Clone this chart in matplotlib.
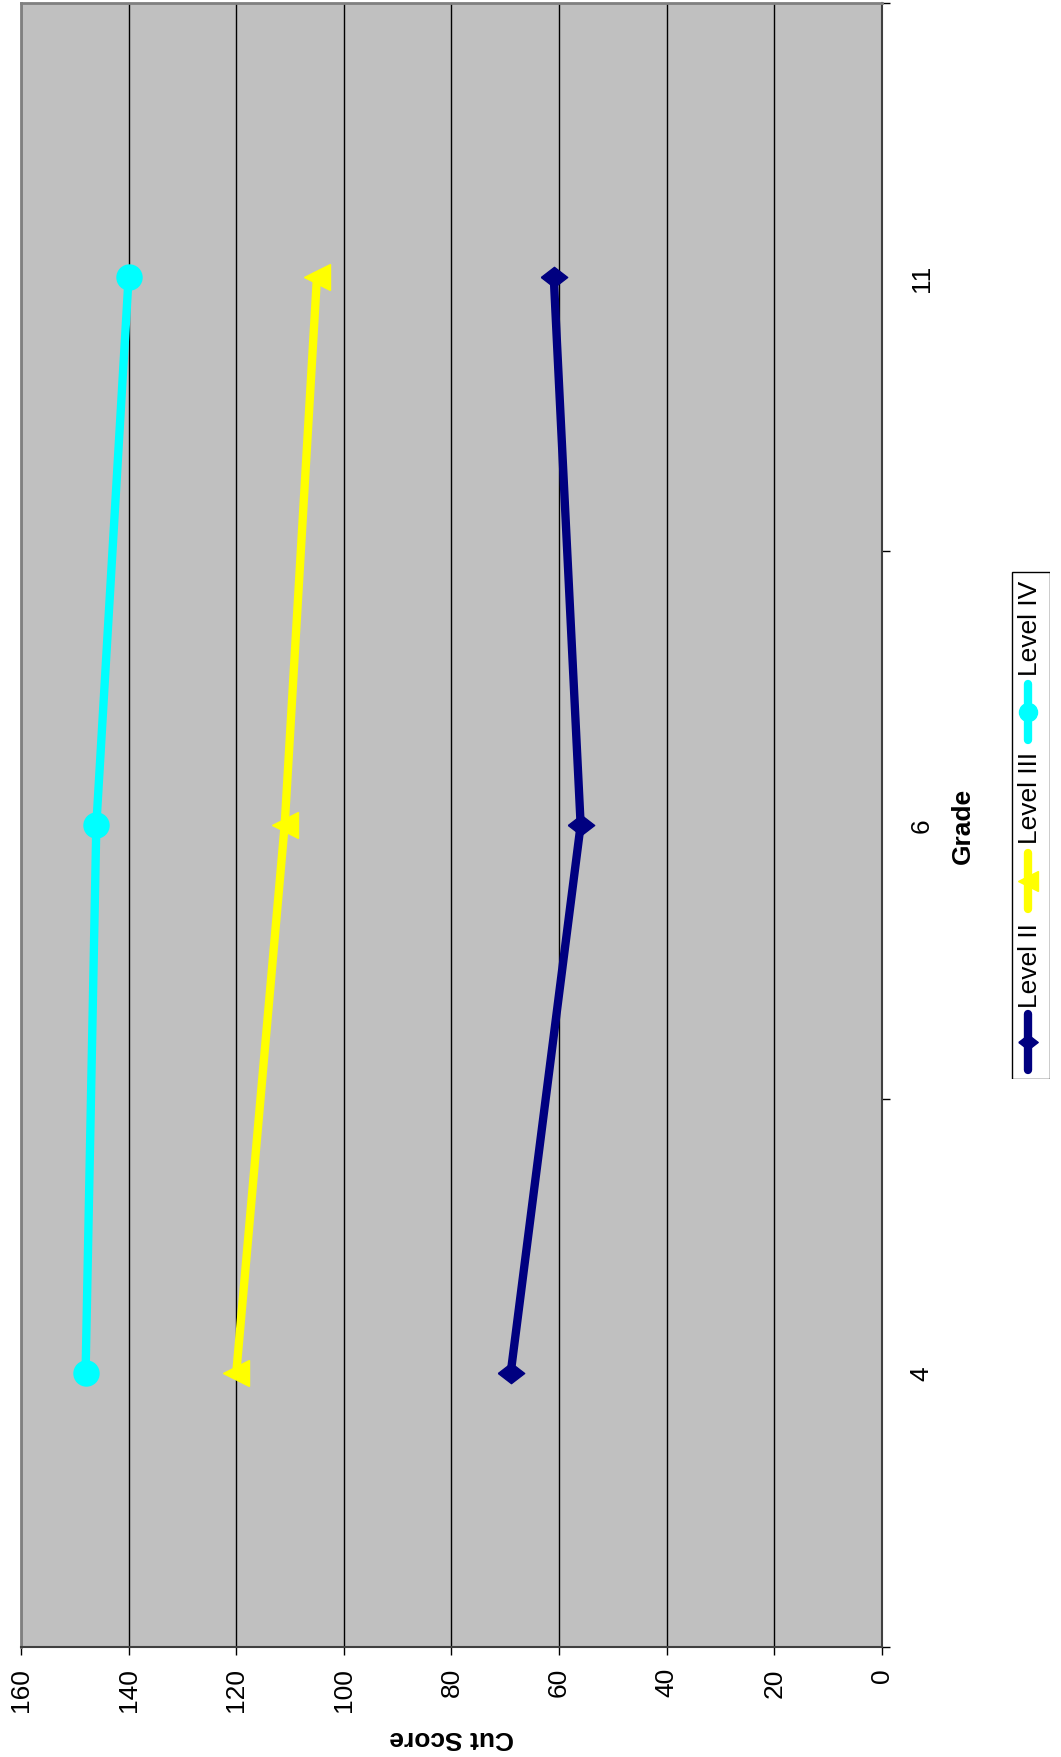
import matplotlib
matplotlib.use("Agg")
import matplotlib.pyplot as plt
from matplotlib.patches import Rectangle

plt.rcParams['font.family'] = ['Liberation Sans', 'DejaVu Sans']

# chart data (grade categories, cut scores per level)
grades = ['4', '6', '11']
level_ii = [69, 56, 61]
level_iii = [120, 111, 105]
level_iv = [148, 146, 140]
score_ticks = [0, 20, 40, 60, 80, 100, 120, 140, 160]

W, H = 1061, 1758
fig = plt.figure(figsize=(W / 100, H / 100), dpi=100)

# the whole chart is turned 90 degrees: score runs right->left, grade bottom->top
ax = fig.add_axes([21 / W, 110 / H, (882 - 21) / W, (1648 - 4) / H])
ax.set_facecolor('#c0c0c0')
pos = [i + 0.5 for i in range(len(grades))]

diamond = [(-1, 0), (0, 0.77), (1, 0), (0, -0.77), (-1, 0)]
ax.plot(level_ii, pos, color='#000080', lw=6, marker=diamond, ms=19, zorder=3)
ax.plot(level_iii, pos, color='#ffff00', lw=6, marker='<', ms=19, zorder=3)
ax.plot(level_iv, pos, color='#00ffff', lw=6, marker='o', ms=18, zorder=3)

ax.set_xlim(160, 0)
ax.set_ylim(0, len(grades))
ax.set_xticks(score_ticks)
ax.set_xticklabels([str(t) for t in score_ticks], rotation=90, fontsize=19)
ax.tick_params(axis='x', direction='out', length=6, width=1, pad=8.5, color='black')
ax.grid(axis='x', color='black', lw=1)
ax.set_axisbelow(True)

ax.yaxis.tick_right()
ax.set_yticks(range(len(grades) + 1))
ax.set_yticklabels([])
ax.set_yticks(pos, minor=True)
ax.set_yticklabels(grades, minor=True, rotation=90, fontsize=19, va='center')
ax.tick_params(axis='y', which='major', direction='out', length=6, width=1, color='black')
ax.tick_params(axis='y', which='minor', length=0, pad=20)

for s in ['top', 'left']:
    ax.spines[s].set_color('#808080')
    ax.spines[s].set_linewidth(2)
for s in ['bottom', 'right']:
    ax.spines[s].set_color('#404040')
    ax.spines[s].set_linewidth(1.5)

fig.text(963 / W, 1 - 826 / H, 'Grade', rotation=90, fontsize=19, fontweight='bold',
         ha='center', va='center')
fig.text(452 / W, 1 - 1738 / H, 'Cut Score', rotation=180, fontsize=19, fontweight='bold',
         ha='center', va='center')

# legend, drawn by hand since it is rotated as well
lg = fig.add_axes([1011 / W, 1 - 1080 / H, (1050 - 1011) / W, (1080 - 572) / H])
lg.set_xlim(1011, 1050)
lg.set_ylim(1080, 572)
lg.axis('off')
lg.add_patch(Rectangle((1011.5, 572.5), 38, 507, fill=False, ec='black', lw=1))
entries = [('Level II', '#000080', diamond, 14, 1043, 966),
           ('Level III', '#ffff00', '<', 14, 882, 798),
           ('Level IV', '#00ffff', 'o', 13, 713, 628)]
for name, col, mk, ms, yh, yt in entries:
    lg.plot([1028, 1028], [yh - 28, yh + 28], color=col, lw=6, solid_capstyle='round')
    lg.plot([1028], [yh], color=col, marker=mk, ms=ms)
    lg.text(1030, yt, name, rotation=90, fontsize=19, ha='center', va='center')

fig.savefig('out.png', dpi=100)
